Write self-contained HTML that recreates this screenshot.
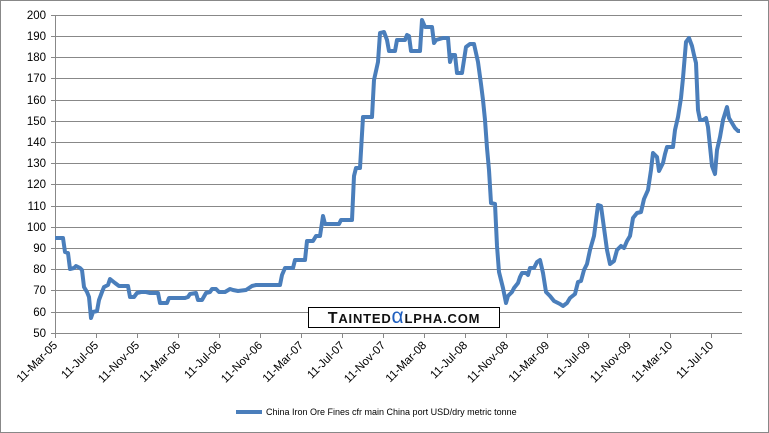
<!DOCTYPE html>
<html><head><style>body{margin:0;background:#fff}svg{display:block}</style></head><body>
<svg width="769" height="433" xmlns="http://www.w3.org/2000/svg" font-family="Liberation Sans, sans-serif">
<rect x="0.5" y="0.5" width="768" height="432" fill="#fff" stroke="#888"/>
<g stroke="#888" stroke-width="1">
<line x1="55" y1="15.5" x2="742" y2="15.5"/><line x1="55" y1="36.5" x2="742" y2="36.5"/><line x1="55" y1="57.5" x2="742" y2="57.5"/><line x1="55" y1="78.5" x2="742" y2="78.5"/><line x1="55" y1="100.5" x2="742" y2="100.5"/><line x1="55" y1="121.5" x2="742" y2="121.5"/><line x1="55" y1="142.5" x2="742" y2="142.5"/><line x1="55" y1="163.5" x2="742" y2="163.5"/><line x1="55" y1="184.5" x2="742" y2="184.5"/><line x1="55" y1="206.5" x2="742" y2="206.5"/><line x1="55" y1="227.5" x2="742" y2="227.5"/><line x1="55" y1="248.5" x2="742" y2="248.5"/><line x1="55" y1="269.5" x2="742" y2="269.5"/><line x1="55" y1="290.5" x2="742" y2="290.5"/><line x1="55" y1="312.5" x2="742" y2="312.5"/><line x1="55" y1="333.5" x2="742" y2="333.5"/>
<line x1="55.5" y1="15" x2="55.5" y2="338"/>
</g>
<g stroke="#888">
<line x1="51" y1="15.5" x2="55" y2="15.5"/><line x1="51" y1="36.5" x2="55" y2="36.5"/><line x1="51" y1="57.5" x2="55" y2="57.5"/><line x1="51" y1="78.5" x2="55" y2="78.5"/><line x1="51" y1="100.5" x2="55" y2="100.5"/><line x1="51" y1="121.5" x2="55" y2="121.5"/><line x1="51" y1="142.5" x2="55" y2="142.5"/><line x1="51" y1="163.5" x2="55" y2="163.5"/><line x1="51" y1="184.5" x2="55" y2="184.5"/><line x1="51" y1="206.5" x2="55" y2="206.5"/><line x1="51" y1="227.5" x2="55" y2="227.5"/><line x1="51" y1="248.5" x2="55" y2="248.5"/><line x1="51" y1="269.5" x2="55" y2="269.5"/><line x1="51" y1="290.5" x2="55" y2="290.5"/><line x1="51" y1="312.5" x2="55" y2="312.5"/><line x1="51" y1="333.5" x2="55" y2="333.5"/>
<line x1="96.5" y1="333" x2="96.5" y2="338"/><line x1="137.5" y1="333" x2="137.5" y2="338"/><line x1="178.5" y1="333" x2="178.5" y2="338"/><line x1="219.5" y1="333" x2="219.5" y2="338"/><line x1="260.5" y1="333" x2="260.5" y2="338"/><line x1="301.5" y1="333" x2="301.5" y2="338"/><line x1="342.5" y1="333" x2="342.5" y2="338"/><line x1="383.5" y1="333" x2="383.5" y2="338"/><line x1="424.5" y1="333" x2="424.5" y2="338"/><line x1="465.5" y1="333" x2="465.5" y2="338"/><line x1="506.5" y1="333" x2="506.5" y2="338"/><line x1="547.5" y1="333" x2="547.5" y2="338"/><line x1="588.5" y1="333" x2="588.5" y2="338"/><line x1="629.5" y1="333" x2="629.5" y2="338"/><line x1="670.5" y1="333" x2="670.5" y2="338"/><line x1="711.5" y1="333" x2="711.5" y2="338"/>
</g>
<g font-size="11.5" fill="#000" text-anchor="end">
<text x="46" y="19">200</text><text x="46" y="40">190</text><text x="46" y="61">180</text><text x="46" y="82">170</text><text x="46" y="104">160</text><text x="46" y="125">150</text><text x="46" y="146">140</text><text x="46" y="167">130</text><text x="46" y="188">120</text><text x="46" y="210">110</text><text x="46" y="231">100</text><text x="46" y="252">90</text><text x="46" y="273">80</text><text x="46" y="294">70</text><text x="46" y="316">60</text><text x="46" y="337">50</text>
</g>
<g font-size="11.5" fill="#000" text-anchor="end">
<text transform="translate(58,346) rotate(-45)">11-Mar-05</text>
<text transform="translate(99,346) rotate(-45)">11-Jul-05</text>
<text transform="translate(140,346) rotate(-45)">11-Nov-05</text>
<text transform="translate(181,346) rotate(-45)">11-Mar-06</text>
<text transform="translate(222,346) rotate(-45)">11-Jul-06</text>
<text transform="translate(263,346) rotate(-45)">11-Nov-06</text>
<text transform="translate(304,346) rotate(-45)">11-Mar-07</text>
<text transform="translate(345,346) rotate(-45)">11-Jul-07</text>
<text transform="translate(386,346) rotate(-45)">11-Nov-07</text>
<text transform="translate(427,346) rotate(-45)">11-Mar-08</text>
<text transform="translate(468,346) rotate(-45)">11-Jul-08</text>
<text transform="translate(509,346) rotate(-45)">11-Nov-08</text>
<text transform="translate(550,346) rotate(-45)">11-Mar-09</text>
<text transform="translate(591,346) rotate(-45)">11-Jul-09</text>
<text transform="translate(632,346) rotate(-45)">11-Nov-09</text>
<text transform="translate(673,346) rotate(-45)">11-Mar-10</text>
<text transform="translate(714,346) rotate(-45)">11-Jul-10</text>
</g>
<rect x="308.5" y="307.5" width="191" height="20" fill="#fff" stroke="#000"/>
<text x="404" y="323" font-size="16" font-weight="bold" text-anchor="middle" fill="#111" letter-spacing="0.8">T<tspan font-size="13">AINTED</tspan><tspan fill="#1f5fbf" font-size="21" font-weight="normal">α</tspan><tspan font-size="13">LPHA.COM</tspan></text>
<polyline fill="none" stroke="#4a7ebb" stroke-width="4" stroke-linejoin="round" points="55,238 63,238 65,252 68,253 70,269 74,268 76,266 80,268 82,270 84,287 87,292 89,297 91,318 93,312 97,311 99,300 102,292 104,287 108,285 110,279 115,283 119,286 128,286 130,297 134,297 137,293 141,292 146,292 150,293 158,293 160,303 167,303 169,298 176,298 185,298 188,297 190,294 196,293 198,300 202,300 206,293 210,292 212,289 216,289 219,292 225,292 230,289 233,290 238,291 246,290 252,286 256,285 270,285 280,285 282,275 285,268 293,268 295,260 305,260 307,241 313,241 316,236 320,236 323,216 325,224 339,224 341,220 352,220 354,176 356,168 360,168 363,117 372,117 374,80 378,62 380,33 384,32 387,40 389,51 395,51 397,40 405,40 407,35 409,36 411,51 420,51 422,20 425,27 432,27 434,43 436,40 443,38 448,38 450,62 452,55 455,55 457,73 462,73 464,60 466,47 470,44 474,44 478,62 481,84 483,100 485,120 487,148 489,170 491,203 495,204 497,246 499,272 503,288 506,303 508,296 512,292 514,288 518,283 520,277 522,273 526,273 528,275 530,268 534,268 537,262 540,260 543,273 546,292 550,296 554,301 560,304 563,306 567,303 570,298 575,294 578,282 581,281 584,270 587,264 590,250 594,236 598,205 601,206 604,228 607,250 610,264 614,261 617,250 621,246 624,248 627,241 630,236 633,218 637,213 641,212 644,199 648,190 651,170 653,153 657,157 659,171 663,163 665,154 667,147 673,147 675,130 678,117 681,98 683,78 686,42 689,38 692,46 694,55 696,63 698,110 700,120 703,120 706,118 708,127 712,166 715,174 717,150 720,137 723,120 727,107 729,118 732,123 735,128 738,131 740,131"/>
<line x1="236" y1="412" x2="262" y2="412" stroke="#4a7ebb" stroke-width="4"/>
<text x="266" y="415" font-size="9" fill="#000">China Iron Ore Fines cfr main China port USD/dry metric tonne</text>
</svg>
</body></html>
